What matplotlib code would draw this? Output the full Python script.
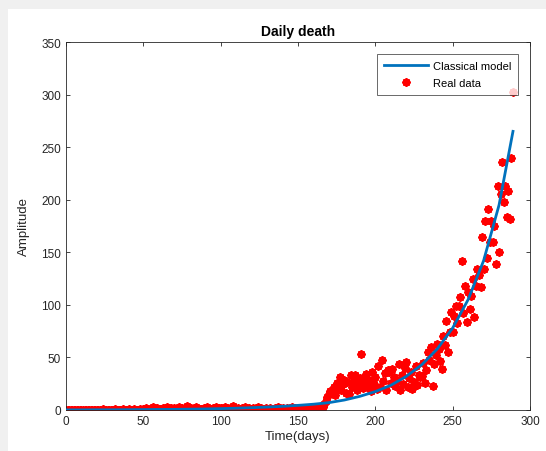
import numpy as np
import matplotlib
matplotlib.use("Agg")
import matplotlib.pyplot as plt
from matplotlib.patches import Rectangle

plt.rcParams['font.family'] = ['Liberation Sans', 'DejaVu Sans']

# daily deaths, day 0 .. 289
deaths = [
    0, 0, 0, 0, 0, 0, 0, 0, 0, 0,
    0, 0, 0, 0, 0, 0, 0, 0, 0, 0,
    0, 0, 0, 0, 1, 0, 0, 0, 0, 0,
    0, 0, 1, 0, 0, 0, 0, 1, 0, 0,
    0, 1, 0, 0, 1, 0, 0, 0, 1, 0,
    1, 0, 2, 1, 0, 1, 3, 1, 0, 2,
    1, 1, 0, 2, 1, 3, 1, 0, 2, 1,
    2, 1, 1, 3, 0, 2, 1, 2, 4, 1,
    1, 2, 0, 1, 3, 2, 1, 1, 0, 2,
    1, 3, 2, 0, 1, 2, 1, 3, 1, 2,
    2, 1, 0, 3, 2, 1, 2, 1, 4, 1,
    1, 2, 1, 0, 2, 1, 3, 1, 2, 1,
    0, 2, 1, 1, 3, 1, 2, 0, 1, 2,
    1, 1, 2, 0, 1, 2, 1, 3, 1, 0,
    2, 1, 1, 2, 0, 1, 3, 1, 2, 1,
    1, 2, 1, 0, 2, 1, 1, 2, 1, 0,
    1, 2, 1, 3, 2, 4, 3, 6, 9, 12,
    15, 18, 17, 22, 14, 26, 20, 31, 19, 25,
    29, 16, 27, 15, 33, 22, 28, 33, 19, 24,
    30, 53, 21, 27, 34, 22, 29, 18, 36, 25,
    31, 20, 42, 22, 48, 28, 35, 19, 38, 36,
    26, 39, 31, 23, 28, 44, 19, 33, 25, 40,
    46, 22, 30, 36, 20, 27, 42, 24, 33, 31,
    32, 45, 26, 38, 55, 48, 60, 23, 44, 52,
    63, 58, 47, 39, 70, 62, 85, 55, 74, 93,
    74, 89, 99, 83, 99, 107, 142, 92, 118, 84,
    112, 96, 108, 125, 88, 118, 134, 128, 117, 165,
    134, 180, 145, 191, 160, 180, 160, 175, 139, 213,
    150, 205, 236, 198, 213, 184, 208, 182, 240, 302,
]
days = np.arange(len(deaths))

# classical model curve
model_days = [0, 10, 20, 30, 40, 50, 60, 70, 80, 90, 100, 110, 120, 130, 140,
              150, 160, 170, 180, 190, 200, 210, 220, 230, 240, 250, 260, 270,
              280, 289]
model_vals = [0.1, 0.1, 0.2, 0.2, 0.3, 0.4, 0.5, 0.6, 0.8, 1.0, 1.3, 1.7, 2.2,
              2.8, 3.5, 4.4, 5.5, 7.0, 9.5, 13.0, 17.5, 23.5, 32.0, 43.0, 58.0,
              78.0, 105.0, 142.0, 195.0, 265.0]

fig = plt.figure(figsize=(5.46, 4.52), dpi=100, facecolor='#f0f0f0')
fig.patches.append(Rectangle((8 / 546, 0), 1, (452 - 10) / 452,
                             transform=fig.transFigure, facecolor='white',
                             edgecolor='none', zorder=-10))

ax = fig.add_axes([66 / 546, 41 / 452, 464 / 546, 368 / 452])
# MATLAB-style asterisk marker
pts, = ax.plot(days, deaths, linestyle='none', marker=(8, 2, 0),
               color='#ff0000', markersize=6, markeredgewidth=1.4, zorder=2)
line, = ax.plot(model_days, model_vals, color='#0072BD', linewidth=2, zorder=3)

ax.set_xlim(0, 300)
ax.set_ylim(0, 350)
ax.set_xticks(np.arange(0, 301, 50))
ax.set_yticks(np.arange(0, 351, 50))
ax.tick_params(direction='in', top=True, right=True, labelsize=8.5,
               colors='#262626', length=3, width=0.6)
for s in ax.spines.values():
    s.set_color('#262626')
    s.set_linewidth(0.6)

ax.set_title('Daily death', fontsize=10, fontweight='bold', color='#000000', pad=5)
ax.set_xlabel('Time(days)', fontsize=9.5, color='#262626', labelpad=2)
ax.set_ylabel('Amplitude', fontsize=9.5, color='#262626', labelpad=8)

leg = ax.legend([line, pts], ['Classical model', 'Real data'], loc='upper right',
                fontsize=8, frameon=True, fancybox=False, edgecolor='#262626',
                borderaxespad=1.1, handlelength=4.0, borderpad=0.6,
                labelspacing=0.65, handletextpad=0.4)
leg.get_frame().set_linewidth(0.6)

fig.savefig('out.png', dpi=100, facecolor=fig.get_facecolor())
